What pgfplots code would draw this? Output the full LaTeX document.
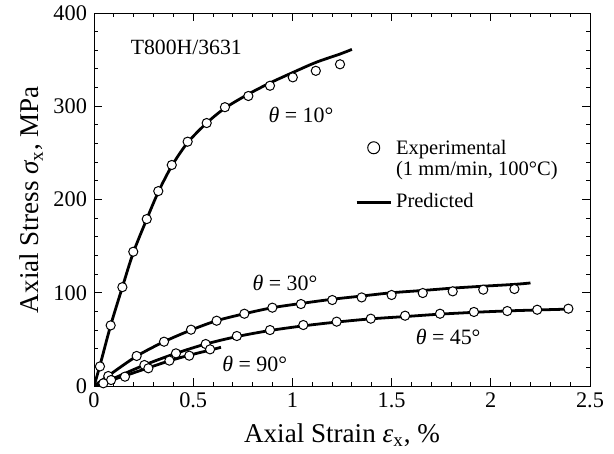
\documentclass[border=0pt]{standalone}
\usepackage{pgfplots}
\pgfplotsset{compat=1.18}
\usepackage{fontspec}
\setmainfont{Liberation Serif}
\begin{document}
\begin{tikzpicture}
\useasboundingbox (-47bp,-34bp) rectangle (260bp,193bp);
\begin{axis}[
  at={(0,0)}, anchor=south west,
  scale only axis, width=248bp, height=186.5bp,
  xmin=0, xmax=2.5, ymin=0, ymax=400,
  xtick={0,0.5,...,2.5}, ytick={0,100,...,400},
  xticklabels={0,0.5,1,1.5,2,2.5},
  minor x tick num=4, minor y tick num=4,
  tick align=inside, tick pos=both,
  major tick length=4bp, minor tick length=2bp,
  axis line style={line width=0.5bp},
  tick style={line width=0.5bp, black},
  /pgf/number format/assume math mode=true,
  tick label style={font=\fontsize{11.2}{13}\selectfont},
  label style={font=\fontsize{13.6}{16}\selectfont},
  xlabel={Axial Strain {\itshape ε}\textsubscript{x}, \%},
  ylabel={Axial Stress {\itshape σ}\textsubscript{x}, MPa},
  xlabel style={yshift=-1bp},
  ylabel style={yshift=-1.5bp},
  legend style={draw=none, fill=none, at={(0.514,0.682)}, anchor=north west,
    font=\fontsize{10.3}{10.8}\selectfont, row sep=3.5bp, cells={align=left}},
  legend cell align=left,
]
\addlegendimage{only marks, mark=*, mark size=3bp, mark options={fill=white, draw=black, line width=0.5bp}, yshift=5.8bp}
\addlegendentry{Experimental\\(1 mm/min, 100°C)}
\addlegendimage{black, line width=1.4pt}
\addlegendentry{Predicted}
% predicted lines
\addplot[black, line width=1.4pt, smooth, forget plot] coordinates {
(0,0)(0.03,22)(0.084,65)(0.143,106)(0.198,143)(0.266,179)(0.324,208)(0.392,236)(0.472,261)(0.568,282)(0.660,298)(0.778,313)(0.887,325)(1.0,336)(1.118,347)(1.24,356)(1.3,361)};
\addplot[black, line width=1.4pt, smooth, forget plot] coordinates {
(0,0)(0.072,11)(0.215,32)(0.353,47.5)(0.489,60)(0.618,70)(0.758,77.5)(0.9,84)(1.043,88.5)(1.2,93)(1.35,96.5)(1.5,100)(1.66,102.5)(1.81,105)(1.96,107)(2.12,109)(2.2,110.5)};
\addplot[black, line width=1.4pt, smooth, forget plot] coordinates {
(0,0)(0.086,7)(0.254,22.5)(0.413,35)(0.563,45)(0.72,53)(0.887,59.5)(1.055,64.5)(1.22,68.5)(1.395,72)(1.57,74.5)(1.74,77)(1.915,79)(2.08,80.5)(2.23,81.5)(2.4,82.5)};
\addplot[black, line width=1.4pt, smooth, forget plot] coordinates {
(0,0)(0.047,3.5)(0.156,11)(0.274,19.5)(0.38,27)(0.48,33)(0.585,38.5)(0.64,41.5)};
% experimental markers
\pgfplotsset{expmark/.style={only marks, mark=*, mark size=2.3bp, mark options={fill=white, draw=black, line width=0.5bp}, forget plot}}
\addplot[expmark] coordinates {
(0.03,21)(0.084,65)(0.143,106)(0.198,144)(0.266,179)(0.324,209)(0.392,237)(0.472,262)(0.568,282)(0.660,299)(0.778,311)(0.887,322)(1.002,331)(1.118,338)(1.240,345)};
\addplot[expmark] coordinates {
(0.072,10.7)(0.215,32.2)(0.353,47.5)(0.489,60.4)(0.618,70)(0.758,77.5)(0.899,84)(1.043,87.9)(1.201,92.2)(1.349,95)(1.5,97.6)(1.657,99.7)(1.808,101.5)(1.962,103.3)(2.119,104)};
\addplot[expmark] coordinates {
(0.086,6.4)(0.254,22.5)(0.413,35)(0.563,45)(0.72,53.6)(0.887,60)(1.055,65.4)(1.223,69)(1.395,72.2)(1.568,75.4)(1.744,77.5)(1.915,79.4)(2.083,80.4)(2.234,81.8)(2.391,82.9)};
\addplot[expmark] coordinates {
(0.047,2.9)(0.156,10)(0.274,19)(0.38,27.2)(0.48,32.5)(0.585,39.3)};
% labels
\node[anchor=west, font=\fontsize{10.9}{12}\selectfont] at (axis cs:0.15,363) {T800H/3631};
\node[font=\fontsize{11}{12}\selectfont] at (axis cs:1.043,291) {{\itshape θ} = 10°};
\node[font=\fontsize{11}{12}\selectfont] at (axis cs:0.963,110.5) {{\itshape θ} = 30°};
\node[font=\fontsize{11}{12}\selectfont] at (axis cs:1.785,52.5) {{\itshape θ} = 45°};
\node[font=\fontsize{11}{12}\selectfont] at (axis cs:0.81,23.6) {{\itshape θ} = 90°};
\end{axis}
\end{tikzpicture}
\end{document}
